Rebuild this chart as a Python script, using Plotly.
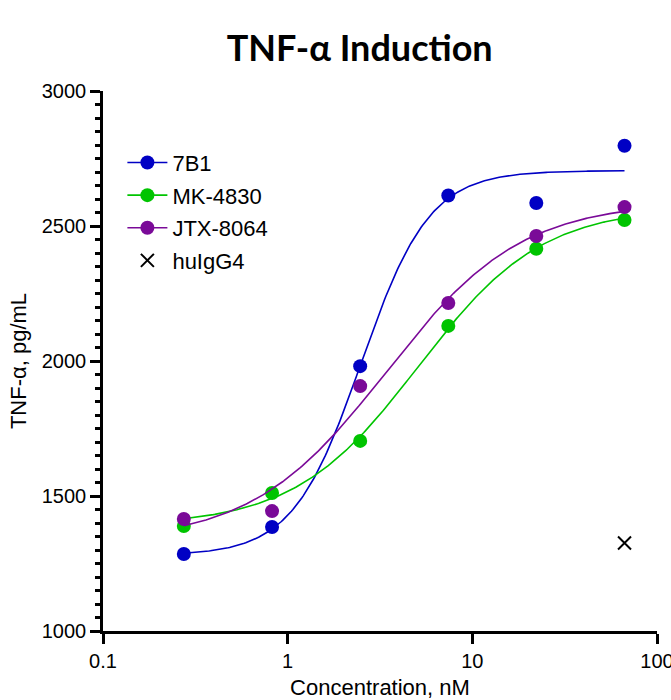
import numpy as np
import plotly.graph_objects as go

# ---- data ----
conc = [0.274, 0.823, 2.47, 7.41, 22.2, 66.7]
y_7b1 = [1285, 1385, 1981, 2613, 2585, 2797]
y_mk4830 = [1389, 1511, 1704, 2130, 2416, 2522]
y_jtx8064 = [1415, 1444, 1907, 2215, 2463, 2570]
ctrl_conc = [66.7]
y_huigg4 = [1326]

# 4PL fit parameters (bottom, top, EC50, hill) as shown by the fitted curves
fit_7b1 = [1280, 2705, 2.5, 2.35]
fit_mk4830 = [1390, 2570, 5.1, 1.3]
fit_jtx8064 = [1330, 2590, 3.42, 1.19]

names = ["7B1", "MK-4830", "JTX-8064"]
colors = ["#0000c4", "#00c400", "#7a0a98"]

x_ticks = [0.1, 1, 10, 100]
x_ticklabels = ["0.1", "1", "10", "100"]
y_ticks = [1000, 1500, 2000, 2500, 3000]


def four_pl(x, b, t, c, h):
    x = np.asarray(x, dtype=float)
    return b + (t - b) / (1 + (c / x) ** h)


font_family = "Liberation Sans, Arial, sans-serif"
fig = go.Figure()

xs = np.logspace(np.log10(conc[0]), np.log10(conc[-1]), 300)
for nm, col, ys, fp in zip(names, colors, [y_7b1, y_mk4830, y_jtx8064],
                           [fit_7b1, fit_mk4830, fit_jtx8064]):
    # fitted curve
    fig.add_trace(go.Scatter(x=xs, y=four_pl(xs, *fp), mode="lines",
                             line=dict(color=col, width=1.6), showlegend=False,
                             hoverinfo="skip"))
    # data points
    fig.add_trace(go.Scatter(x=conc, y=ys, mode="markers", name=nm, showlegend=False,
                             marker=dict(color=col, size=14), cliponaxis=False))
    # legend entry (line + marker)
    fig.add_trace(go.Scatter(x=[None], y=[None], mode="lines+markers", name=nm,
                             legendgroup=nm,
                             marker=dict(color=col, size=14),
                             line=dict(color=col, width=1.6)))

fig.add_trace(go.Scatter(x=ctrl_conc, y=y_huigg4, mode="markers", name="huIgG4",
                         legendgroup="huIgG4",
                         marker=dict(symbol="x-thin", size=13, color="black",
                                     line=dict(color="black", width=2))))

fig.update_layout(
    width=671, height=700,
    margin=dict(l=103, r=14, t=91, b=69, autoexpand=False),
    paper_bgcolor="white", plot_bgcolor="white",
    font=dict(family=font_family, size=20, color="black"),
    title=dict(text="<b>TNF-α Induction</b>", x=0.536, xref="container",
               y=0.931, yref="container", xanchor="center", yanchor="middle",
               font=dict(family="Lato, sans-serif", size=36, color="black")),
    legend=dict(x=0.035, y=0.906, xanchor="left", yanchor="top",
                bgcolor="rgba(0,0,0,0)", tracegroupgap=1, itemwidth=40,
                font=dict(family=font_family, size=22)),
    showlegend=True,
)

fig.update_xaxes(type="log", range=[-1, 2], tickvals=x_ticks, ticktext=x_ticklabels,
                 showgrid=False, zeroline=False, showline=True, linecolor="black",
                 linewidth=2.5, ticks="outside", ticklen=10, tickwidth=2.5,
                 tickcolor="black", tickfont=dict(size=20), automargin=False,
                 ticklabeloverflow="allow",
                 title=dict(text="Concentration, nM", standoff=13,
                            font=dict(family=font_family, size=22)))
fig.update_yaxes(range=[1000, 3000], tickvals=y_ticks, showgrid=False, zeroline=False,
                 showline=True, linecolor="black", linewidth=2.5, ticks="outside",
                 ticklen=10, tickwidth=2.5, tickcolor="black", tickfont=dict(size=20),
                 automargin=False,
                 minor=dict(dtick=50, ticks="outside", ticklen=5, tickwidth=2.5,
                            tickcolor="black", showgrid=False),
                 title=dict(text="TNF-α, pg/mL", standoff=10,
                            font=dict(family=font_family, size=22)))

fig.write_html("out.html")
